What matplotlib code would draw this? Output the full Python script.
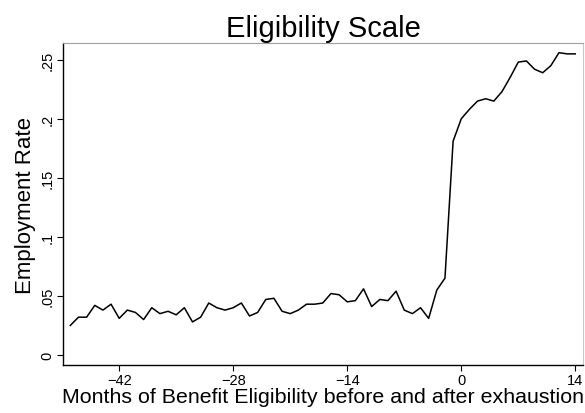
import numpy as np
import matplotlib
matplotlib.use("Agg")
import matplotlib.pyplot as plt

plt.rcParams['font.family'] = ['Liberation Sans', 'DejaVu Sans']

# months relative to benefit exhaustion
months = list(range(-48, 15))
# employment rate
rate = [0.025, 0.032, 0.032, 0.042, 0.038, 0.043, 0.031, 0.038, 0.036, 0.030,
        0.040, 0.035, 0.037, 0.034, 0.040, 0.028, 0.032, 0.044, 0.040, 0.038,
        0.040, 0.044, 0.033, 0.036, 0.047, 0.048, 0.037, 0.035, 0.038, 0.043,
        0.043, 0.044, 0.052, 0.051, 0.045, 0.046, 0.056, 0.041, 0.047, 0.046,
        0.054, 0.038, 0.035, 0.040, 0.031, 0.055, 0.065, 0.181, 0.200, 0.208,
        0.215, 0.217, 0.215, 0.223, 0.235, 0.248, 0.249, 0.242, 0.239, 0.245,
        0.256, 0.255, 0.255]

xticks = [-42, -28, -14, 0, 14]
yticks = [0, 0.05, 0.1, 0.15, 0.2, 0.25]
ylabels = ['0', '.05', '.1', '.15', '.2', '.25']

fig = plt.figure(figsize=(5.85, 4.14), dpi=100)
ax = fig.add_axes([63/585, 1 - 366/414, (583-63)/585, (366-44)/414])
ax.plot(months, rate, color='black', linewidth=1.1)

ax.set_xlim(-48.9, 14.95)
ax.set_ylim(-0.0085, 0.2642)
ax.set_xticks(xticks)
ax.set_xticklabels([str(t).replace('-', '\u2212') for t in xticks], fontsize=10.5)
ax.set_yticks(yticks)
ax.set_yticklabels(ylabels, fontsize=10.5, rotation=90, va='center')
ax.tick_params(direction='out', length=4, width=0.8, color='black', pad=2)

ax.spines['top'].set_color('#a0a0a0')
ax.spines['right'].set_color('#c8c8c8')
ax.spines['left'].set_linewidth(1.0)
ax.spines['bottom'].set_linewidth(1.0)

ax.set_title('Eligibility Scale', fontsize=21, pad=5)
ax.set_xlabel('Months of Benefit Eligibility before and after exhaustion', fontsize=15.4, labelpad=0)
ax.set_ylabel('Employment Rate', fontsize=16, labelpad=3)

fig.savefig('out.png', dpi=100)
